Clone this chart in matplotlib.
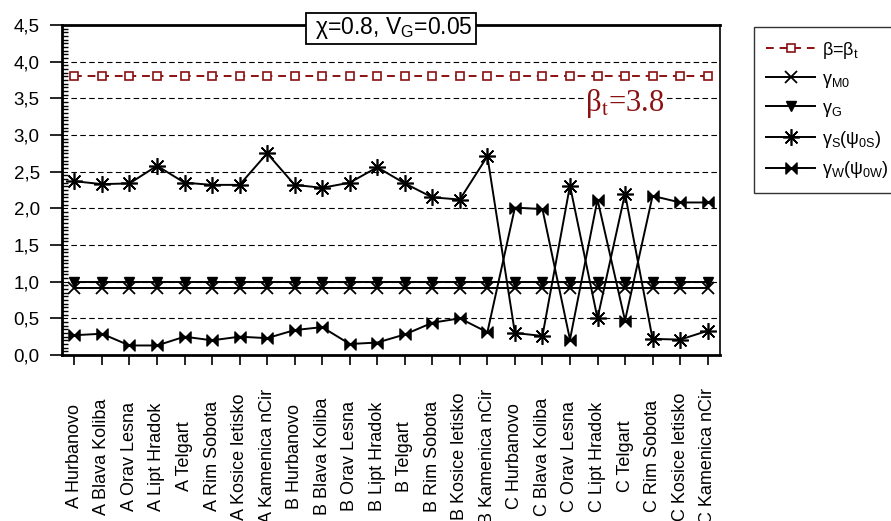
import numpy as np
import matplotlib
matplotlib.use("Agg")
import matplotlib.pyplot as plt
from matplotlib.path import Path
from matplotlib.ticker import MultipleLocator, FuncFormatter

plt.rcParams["font.family"] = ["Liberation Sans", "DejaVu Sans"]
plt.rcParams["mathtext.fontset"] = "custom"
plt.rcParams["mathtext.rm"] = "Liberation Sans"
plt.rcParams["mathtext.it"] = "Liberation Sans"
plt.rcParams["mathtext.sf"] = "Liberation Sans"

# =========================================================
# DATA
# =========================================================
stations = [
    "A Hurbanovo", "A Blava Koliba", "A Orav Lesna", "A Lipt Hradok", "A Telgart",
    "A Rim Sobota", "A Kosice letisko", "A Kamenica nCir",
    "B Hurbanovo", "B Blava Koliba", "B Orav Lesna", "B Lipt Hradok", "B Telgart",
    "B Rim Sobota", "B Kosice letisko", "B Kamenica nCir",
    "C Hurbanovo", "C Blava Koliba", "C Orav Lesna", "C Lipt Hradok", "C Telgart",
    "C Rim Sobota", "C Kosice letisko", "C Kamenica nCir",
]

beta_t = [3.8] * 24
gamma_m0 = [0.91] * 24
gamma_g = [1.0] * 24
gamma_s = [2.37, 2.33, 2.34, 2.58, 2.35, 2.32, 2.32, 2.75,
           2.32, 2.28, 2.35, 2.56, 2.34, 2.15, 2.12, 2.71,
           0.30, 0.26, 2.31, 0.50, 2.20, 0.22, 0.21, 0.33]
gamma_w = [0.27, 0.29, 0.13, 0.13, 0.25, 0.20, 0.25, 0.23,
           0.34, 0.38, 0.15, 0.17, 0.28, 0.44, 0.50, 0.31,
           2.01, 1.99, 0.21, 2.12, 0.47, 2.17, 2.08, 2.08]

# =========================================================
# MARKERS
# =========================================================
bowtie = Path(
    [(-1, -1), (0, 0), (-1, 1), (-1, -1), (1, -1), (0, 0), (1, 1), (1, -1)],
    [Path.MOVETO, Path.LINETO, Path.LINETO, Path.CLOSEPOLY,
     Path.MOVETO, Path.LINETO, Path.LINETO, Path.CLOSEPOLY],
)
asterisk = (8, 2, 0)
dark_red = "#8B1010"

# =========================================================
# PLOT
# =========================================================
fig = plt.figure(figsize=(8.91, 5.21), dpi=100)
ax = fig.add_axes([0.0696, 0.3186, 0.7385, 0.6334])

x = np.arange(len(stations))

ax.plot(x, beta_t, color=dark_red, lw=1.4, ls=(0, (4, 3)), marker="s", ms=6,
        mfc="white", mec=dark_red, mew=1.2, label=r"$\beta$=$\beta_\mathrm{t}$", zorder=3)
ax.plot(x, gamma_m0, color="black", lw=1.4, marker="x", ms=8, mew=1.3,
        label=r"$\gamma_\mathrm{M0}$", zorder=3)
ax.plot(x, gamma_g, color="black", lw=1.4, marker="v", ms=7,
        label=r"$\gamma_\mathrm{G}$", zorder=3)
ax.plot(x, gamma_s, color="black", lw=1.4, marker=asterisk, ms=12, mew=1.2,
        label=r"$\gamma_\mathrm{S}(\psi_\mathrm{0S})$", zorder=3)
ax.plot(x, gamma_w, color="black", lw=1.4, marker=bowtie, ms=8,
        label=r"$\gamma_\mathrm{W}(\psi_\mathrm{0W})$", zorder=3)

ax.set_xlim(-0.45, 23.45)
ax.set_ylim(0, 4.5)

ax.yaxis.set_major_locator(MultipleLocator(0.5))
ax.yaxis.set_minor_locator(MultipleLocator(0.05))
ax.yaxis.set_major_formatter(FuncFormatter(lambda v, p: f"{v:.1f}".replace(".", ",")))
ax.tick_params(axis="y", which="major", direction="out", length=9, width=1.2,
               labelsize=13.5, pad=7)
ax.tick_params(axis="y", which="minor", direction="in", length=4, width=1.0)

ax.set_xticks(x)
ax.set_xticklabels(stations, rotation=90, va="center", fontsize=13)
ax.tick_params(axis="x", which="major", direction="out", length=7, width=1.2, pad=66)

for yv in np.arange(0.5, 4.5, 0.5):
    ax.axhline(yv, color="black", lw=0.8, ls=(0, (5, 3)), zorder=1)

for side in ["left", "bottom", "top"]:
    ax.spines[side].set_linewidth(2.0)
ax.spines["right"].set_linewidth(1.2)

ax.text(0.5, 0.99, r" $\chi$=0.8, V$_\mathrm{G}$=0.05 ", transform=ax.transAxes,
        ha="center", va="center", fontsize=16.5,
        bbox=dict(boxstyle="square,pad=0.1", fc="white", ec="black", lw=1.3), zorder=5)

ax.text(18.55, 3.33, "β$_\\mathrm{t}$=3.8", color=dark_red, fontsize=22,
        family="Liberation Serif", math_fontfamily="stix", ha="left", va="baseline",
        zorder=4, bbox=dict(boxstyle="square,pad=0.05", fc="white", ec="none"))

leg = ax.legend(loc="upper left", bbox_to_anchor=(0.846, 0.948),
                bbox_transform=fig.transFigure, fontsize=13, frameon=True,
                fancybox=False, edgecolor="black", handlelength=2.7,
                borderpad=0.7, labelspacing=0.55, handletextpad=0.4, borderaxespad=0)
leg.get_frame().set_linewidth(1.0)

fig.savefig("out.png", dpi=100)
